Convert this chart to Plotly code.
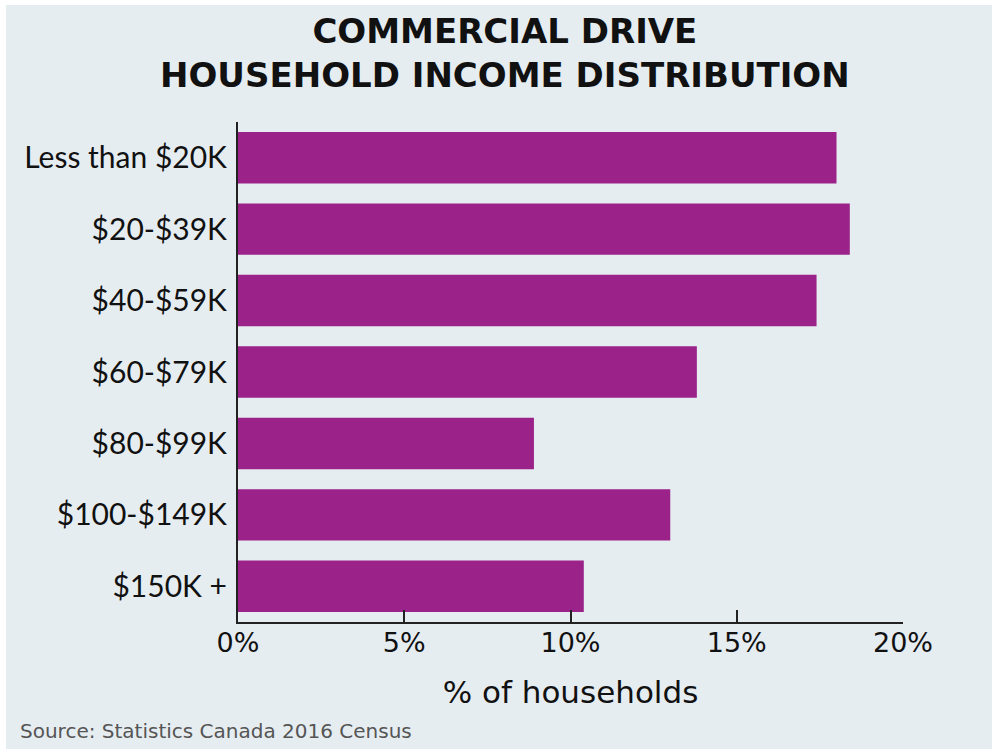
import plotly.graph_objects as go

categories = ["Less than $20K", "$20-$39K", "$40-$59K", "$60-$79K",
              "$80-$99K", "$100-$149K", "$150K +"]
values = [18.0, 18.4, 17.4, 13.8, 8.9, 13.0, 10.4]
tick_vals = [0, 5, 10, 15, 20]
tick_text = ["0%", "5%", "10%", "15%", "20%"]

BG = "#E6EDF1"
BAR = "#9A2288"

# plot area target: x 238..903, y 122..622 in a 992x749 page
L, R, T, B = 238, 992 - 903, 122, 749 - 622
PW, PH = 903 - 238, 622 - 122

fig = go.Figure(go.Bar(
    x=values, y=categories, orientation="h",
    marker=dict(color=BAR, line=dict(width=0)),
    width=0.72,
))

fig.update_layout(
    width=992, height=749,
    margin=dict(l=L, r=R, t=T, b=B),
    paper_bgcolor="white",
    plot_bgcolor="rgba(0,0,0,0)",
    showlegend=False,
    font=dict(family="Lato, sans-serif", color="#111"),
    xaxis=dict(
        range=[0, 20], tickvals=tick_vals, ticktext=tick_text,
        showgrid=False, zeroline=False,
        showline=True, linecolor="#222", linewidth=2,
        ticks="inside", ticklen=12, tickwidth=2, tickcolor="#222",
        ticklabelstandoff=-4,
        tickfont=dict(size=27, family="DejaVu Sans, sans-serif", color="#111"),
        title=dict(text="% of households", standoff=24,
                   font=dict(size=31, family="DejaVu Sans, sans-serif", color="#111")),
    ),
    yaxis=dict(
        autorange="reversed",
        showgrid=False, zeroline=False,
        showline=True, linecolor="#222", linewidth=2,
        ticks="", ticklabelstandoff=3,
        tickfont=dict(size=30, family="Lato, sans-serif", color="#111"),
    ),
    shapes=[dict(
        type="rect", xref="paper", yref="paper", layer="below",
        x0=(6 - 238) / PW, x1=(1000 - 238) / PW,
        y0=(622 - 760) / PH, y1=(622 - 5) / PH,
        fillcolor=BG, line=dict(width=0),
    )],
    annotations=[
        dict(text="<b>COMMERCIAL DRIVE<br>HOUSEHOLD INCOME DISTRIBUTION</b>",
             xref="paper", yref="paper",
             x=(505 - 238) / PW, y=(622 - 53) / PH,
             xanchor="center", yanchor="middle", showarrow=False,
             font=dict(size=34, family="DejaVu Sans, sans-serif", color="#111")),
        dict(text="Source: Statistics Canada 2016 Census",
             xref="paper", yref="paper",
             x=(18 - 238) / PW, y=(622 - 731) / PH,
             xanchor="left", yanchor="middle", showarrow=False,
             font=dict(size=20, family="DejaVu Sans, sans-serif", color="#555")),
    ],
)

fig.write_html("out.html",
               config={"displayModeBar": False},
               post_script="document.body.style.margin='0';document.body.style.overflow='hidden';")
